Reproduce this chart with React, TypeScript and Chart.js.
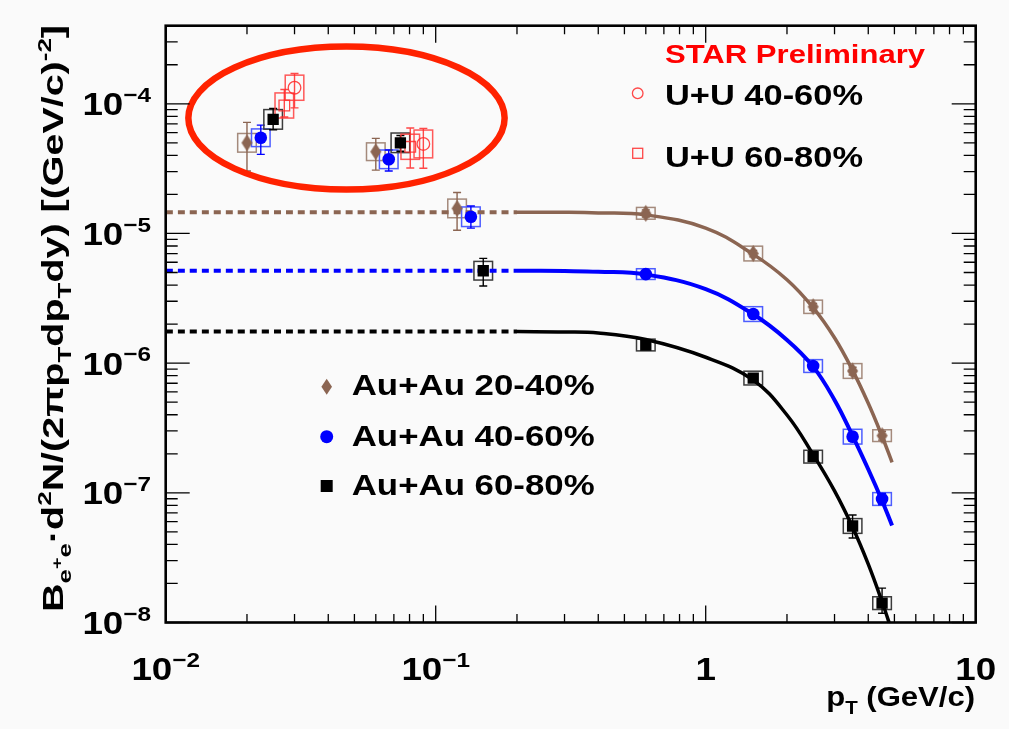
import React, { useEffect, useRef } from "react";
import { Chart, registerables } from "chart.js";

Chart.register(...registerables);

// ---- Au+Au 20-40% (pT in GeV/c, invariant yield, stat. low/high, rel. syst.)
const auPt2040 = [0.02, 0.06, 0.12, 0.6, 1.5, 2.5, 3.5, 4.5];
const auY2040 = [5.0e-5, 4.27e-5, 1.56e-5, 1.43e-5, 7.0e-6, 2.72e-6, 8.7e-7, 2.76e-7];
const auLo2040 = [3.03e-5, 3.08e-5, 1.06e-5, 1.34e-5, 6.6e-6, 2.56e-6, 8.1e-7, 2.55e-7];
const auHi2040 = [7.19e-5, 5.41e-5, 2.07e-5, 1.52e-5, 7.4e-6, 2.88e-6, 9.3e-7, 2.98e-7];
const auSys2040 = [0.18, 0.17, 0.18, 0.11, 0.14, 0.125, 0.14, 0.11];

// ---- Au+Au 40-60%
const auPt4060 = [0.0225, 0.067, 0.135, 0.6, 1.5, 2.5, 3.5, 4.5];
const auY4060 = [5.47e-5, 3.73e-5, 1.345e-5, 4.86e-6, 2.39e-6, 9.5e-7, 2.71e-7, 8.96e-8];
const auLo4060 = [4.07e-5, 3.03e-5, 1.1e-5, 4.62e-6, 2.28e-6, 9.0e-7, 2.52e-7, 8.1e-8];
const auHi4060 = [6.85e-5, 4.4e-5, 1.63e-5, 5.1e-6, 2.5e-6, 1.0e-6, 2.92e-7, 9.9e-8];
const auSys4060 = [0.17, 0.18, 0.19, 0.1, 0.14, 0.12, 0.14, 0.12];

// ---- Au+Au 60-80%
const auPt6080 = [0.025, 0.074, 0.15, 0.6, 1.5, 2.5, 3.5, 4.5];
const auY6080 = [7.58e-5, 5.0e-5, 5.16e-6, 1.38e-6, 7.67e-7, 1.9e-7, 5.55e-8, 1.41e-8];
const auLo6080 = [6.3e-5, 4.3e-5, 3.93e-6, 1.3e-6, 7.2e-7, 1.76e-7, 4.48e-8, 1.18e-8];
const auHi6080 = [9.2e-5, 5.7e-5, 6.43e-6, 1.46e-6, 8.2e-7, 2.05e-7, 6.74e-8, 1.84e-8];
const auSys6080 = [0.19, 0.19, 0.18, 0.11, 0.13, 0.12, 0.14, 0.12];

// ---- U+U 40-60%
const uuPt4060 = [0.03, 0.09];
const uuY4060 = [1.33e-4, 4.9e-5];
const uuLo4060 = [9.3e-5, 3.18e-5];
const uuHi4060 = [1.71e-4, 6.46e-5];
const uuSys4060 = [0.25, 0.28];

// ---- U+U 60-80%
const uuPt6080 = [0.0275, 0.0805];
const uuY6080 = [9.7e-5, 4.66e-5];
const uuLo6080 = [7.9e-5, 3.2e-5];
const uuHi6080 = [1.29e-4, 6.5e-5];
const uuSys6080 = [0.25, 0.25];

// ---- Fitted spectra (solid part) and their low-pT extrapolation (dotted part)
const fitPt = [0.2, 0.3, 0.4, 0.6, 1.0, 1.5, 2.0, 2.5, 3.0, 3.5, 4.0, 4.5, 4.9];
const fit2040 = [1.46e-5, 1.455e-5, 1.44e-5, 1.39e-5, 1.1e-5, 6.9e-6, 4.4e-6, 2.68e-6, 1.57e-6, 8.8e-7, 4.9e-7, 2.73e-7, 1.72e-7];
const fit4060 = [5.16e-6, 5.13e-6, 5.07e-6, 4.82e-6, 3.72e-6, 2.38e-6, 1.51e-6, 9.4e-7, 5.2e-7, 2.75e-7, 1.52e-7, 8.7e-8, 5.6e-8];
const fit6080 = [1.75e-6, 1.74e-6, 1.71e-6, 1.52e-6, 1.11e-6, 7.4e-7, 3.98e-7, 1.97e-7, 1.035e-7, 5.43e-8, 2.82e-8, 1.445e-8, 8.5e-9];
const extrapPt = [0.01, 0.2];
const extrap2040 = [1.46e-5, 1.46e-5];
const extrap4060 = [5.16e-6, 5.16e-6];
const extrap6080 = [1.75e-6, 1.75e-6];

// ---- Axes
const xRange = [0.01, 10];
const yRange = [1e-8, 4e-4];
const xTickLabels: [number, string, string][] = [
  [0.01, "10", "\u22122"],
  [0.1, "10", "\u22121"],
  [1, "1", ""],
  [10, "10", ""],
];
const yTickLabels: [number, string, string][] = [
  [1e-8, "10", "\u22128"],
  [1e-7, "10", "\u22127"],
  [1e-6, "10", "\u22126"],
  [1e-5, "10", "\u22125"],
  [1e-4, "10", "\u22124"],
];

// Highlighted low-pT region (data-space bounding box of the ellipse)
const ringX = [0.01213, 0.18];
const ringY = [2.18e-5, 2.76e-4];

const legendTop = ["U+U 40-60%", "U+U 60-80%"];
const legendBottom = ["Au+Au 20-40%", "Au+Au 40-60%", "Au+Au 60-80%"];

// ---- colours
const BROWN = "#8b6552";
const BROWN_BOX = "#a48a7c";
const BLUE = "#0000ff";
const BLUE_BOX = "#4d5dff";
const BLACK = "#000000";
const BLACK_BOX = "#3c3c3c";
const RED = "rgba(255,40,40,0.85)";
const RED_BOX = "rgba(255,60,60,0.85)";
const BG = "#fafafa";
const FONT = '"Liberation Sans", Arial, Helvetica, sans-serif';

type Seg = { t: string; k?: "sub" | "sup" | "ssup" };

function segSize(size: number, k?: string) {
  if (k === "sub" || k === "sup") return size * 0.66;
  if (k === "ssup") return size * 0.5;
  return size;
}
function segShift(size: number, k?: string) {
  if (k === "sub") return size * 0.28;
  if (k === "sup") return -size * 0.42;
  if (k === "ssup") return -size * 0.02;
  return 0;
}
function segsWidth(ctx: CanvasRenderingContext2D, segs: Seg[], size: number) {
  let w = 0;
  for (const s of segs) {
    ctx.font = `bold ${segSize(size, s.k)}px ${FONT}`;
    w += ctx.measureText(s.t).width;
  }
  return w;
}
// Draws rich text; when `width` is given the run is stretched to that length.
function drawSegs(
  ctx: CanvasRenderingContext2D,
  segs: Seg[],
  x: number,
  y: number,
  size: number,
  color: string,
  align: "left" | "right" | "center",
  width?: number,
  sx = 1.15
) {
  const natural = segsWidth(ctx, segs, size);
  const scale = width ? width / natural : sx;
  const total = natural * scale;
  let start = x;
  if (align === "right") start = x - total;
  if (align === "center") start = x - total / 2;
  ctx.save();
  ctx.translate(start, y);
  ctx.scale(scale, 1);
  ctx.fillStyle = color;
  ctx.textBaseline = "alphabetic";
  ctx.textAlign = "left";
  let cx = 0;
  for (const s of segs) {
    ctx.font = `bold ${segSize(size, s.k)}px ${FONT}`;
    ctx.fillText(s.t, cx, segShift(size, s.k));
    cx += ctx.measureText(s.t).width;
  }
  ctx.restore();
}

function tallDiamond(color: string, hw: number, hh: number) {
  const c = document.createElement("canvas");
  c.width = Math.ceil(hw * 2) + 2;
  c.height = Math.ceil(hh * 2) + 2;
  const g = c.getContext("2d")!;
  const cx = c.width / 2;
  const cy = c.height / 2;
  g.fillStyle = color;
  g.beginPath();
  g.moveTo(cx, cy - hh);
  g.lineTo(cx + hw, cy);
  g.lineTo(cx, cy + hh);
  g.lineTo(cx - hw, cy);
  g.closePath();
  g.fill();
  return c;
}

const BOX_HALF = 9.3;
const CAP = 4;

const overlay = {
  id: "overlay",
  beforeDraw(chart: any) {
    const ctx = chart.ctx;
    ctx.save();
    ctx.fillStyle = BG;
    ctx.fillRect(0, 0, chart.width, chart.height);
    ctx.restore();
  },
  beforeDatasetsDraw(chart: any) {
    const ctx: CanvasRenderingContext2D = chart.ctx;
    const ys = chart.scales.y;
    const a = chart.chartArea;
    ctx.save();
    ctx.beginPath();
    ctx.rect(a.left, a.top, a.right - a.left, a.bottom - a.top);
    ctx.clip();
    chart.data.datasets.forEach((ds: any, i: number) => {
      if (!ds.sys) return;
      const meta = chart.getDatasetMeta(i);
      meta.data.forEach((pt: any, j: number) => {
        const x = pt.x;
        const v = ds.data[j].y;
        const top = ys.getPixelForValue(v * (1 + ds.sys[j]));
        const bot = ys.getPixelForValue(v / (1 + ds.sys[j]));
        ctx.strokeStyle = ds.boxColor;
        ctx.lineWidth = 1.5;
        ctx.strokeRect(x - BOX_HALF, top, BOX_HALF * 2, bot - top);
        const hi = ys.getPixelForValue(ds.errHi[j]);
        const lo = ys.getPixelForValue(ds.errLo[j]);
        ctx.strokeStyle = ds.barColor;
        ctx.lineWidth = 1.4;
        ctx.beginPath();
        ctx.moveTo(x, hi);
        ctx.lineTo(x, lo);
        ctx.moveTo(x - CAP, hi);
        ctx.lineTo(x + CAP, hi);
        ctx.moveTo(x - CAP, lo);
        ctx.lineTo(x + CAP, lo);
        ctx.stroke();
      });
    });
    ctx.restore();
  },
  afterDraw(chart: any) {
    const ctx: CanvasRenderingContext2D = chart.ctx;
    const xs = chart.scales.x;
    const ys = chart.scales.y;
    const a = chart.chartArea;

    // highlight ellipse
    const l = xs.getPixelForValue(ringX[0]);
    const r = xs.getPixelForValue(ringX[1]);
    const t = ys.getPixelForValue(ringY[1]);
    const b = ys.getPixelForValue(ringY[0]);
    ctx.save();
    ctx.strokeStyle = "#ff2200";
    ctx.lineWidth = 6.5;
    ctx.beginPath();
    ctx.ellipse((l + r) / 2, (t + b) / 2, (r - l) / 2, (b - t) / 2, 0, 0, Math.PI * 2);
    ctx.stroke();
    ctx.restore();

    // frame and ticks
    ctx.save();
    ctx.strokeStyle = "#000";
    ctx.lineWidth = 1.3;
    ctx.beginPath();
    for (let d = 0.01; d < 10; d *= 10) {
      for (let m = 1; m <= 9; m++) {
        const v = d * m;
        const px = xs.getPixelForValue(v);
        const len = m === 1 ? 17 : 8.5;
        ctx.moveTo(px, a.bottom);
        ctx.lineTo(px, a.bottom - len);
        ctx.moveTo(px, a.top);
        ctx.lineTo(px, a.top + len);
      }
    }
    for (let d = 1e-8; d < 1e-3; d *= 10) {
      for (let m = 1; m <= 9; m++) {
        const v = d * m;
        if (v > yRange[1] * 1.0001) continue;
        const py = ys.getPixelForValue(v);
        const len = m === 1 ? 24 : 12;
        ctx.moveTo(a.left, py);
        ctx.lineTo(a.left + len, py);
        ctx.moveTo(a.right, py);
        ctx.lineTo(a.right - len, py);
      }
    }
    ctx.stroke();
    ctx.lineWidth = 2.6;
    ctx.strokeRect(a.left, a.top, a.right - a.left, a.bottom - a.top);
    ctx.restore();

    // tick labels
    const TL = 32;
    for (const [v, base, exp] of xTickLabels) {
      const segs: Seg[] = [{ t: base }];
      if (exp) segs.push({ t: exp, k: "sup" });
      drawSegs(ctx, segs, xs.getPixelForValue(v), 672, TL, "#000", "center");
    }
    for (const [v, base, exp] of yTickLabels) {
      const segs: Seg[] = [{ t: base }];
      if (exp) segs.push({ t: exp, k: "sup" });
      drawSegs(ctx, segs, 143, ys.getPixelForValue(v) + TL * 0.36, TL, "#000", "right");
    }

    // axis titles
    drawSegs(
      ctx,
      [{ t: "p" }, { t: "T", k: "sub" }, { t: " (GeV/c)" }],
      967,
      698,
      27,
      "#000",
      "right"
    );
    ctx.save();
    ctx.translate(55, 604);
    ctx.rotate(-Math.PI / 2);
    drawSegs(
      ctx,
      [
        { t: "B" },
        { t: "e", k: "sub" },
        { t: "+", k: "ssup" },
        { t: "e", k: "sub" },
        { t: "\u00b7d" },
        { t: "2", k: "sup" },
        { t: "N/(2\u03c0p" },
        { t: "T", k: "sub" },
        { t: "dp" },
        { t: "T", k: "sub" },
        { t: "dy) [(GeV/c)" },
        { t: "-2", k: "sup" },
        { t: "]" },
      ],
      0,
      0,
      29,
      "#000",
      "left",
      587
    );
    ctx.restore();

    // labels
    drawSegs(ctx, [{ t: "STAR Preliminary" }], 657, 54.6, 25, "#ff0000", "left", 260);
    const topY = [97, 158.6];
    legendTop.forEach((s, i) => drawSegs(ctx, [{ t: s }], 657, topY[i], 30, "#000", "left", 198));
    const botY = [387, 438, 487];
    legendBottom.forEach((s, i) => drawSegs(ctx, [{ t: s }], 343.7, botY[i], 29, "#000", "left", 243));

    // legend markers
    ctx.save();
    ctx.strokeStyle = RED;
    ctx.lineWidth = 1.3;
    ctx.beginPath();
    ctx.arc(629.7, 85.3, 5.3, 0, Math.PI * 2);
    ctx.stroke();
    ctx.strokeRect(624.7, 140.3, 10, 10);
    ctx.fillStyle = BROWN;
    ctx.beginPath();
    ctx.moveTo(318.7, 370.7);
    ctx.lineTo(324, 378.7);
    ctx.lineTo(318.7, 386.7);
    ctx.lineTo(313.4, 378.7);
    ctx.closePath();
    ctx.fill();
    ctx.fillStyle = BLUE;
    ctx.beginPath();
    ctx.arc(318.7, 428.7, 6.5, 0, Math.PI * 2);
    ctx.fill();
    ctx.fillStyle = BLACK;
    ctx.fillRect(312.7, 472, 12, 12);
    ctx.restore();
  },
};

function pts(xs: number[], ys: number[]) {
  return xs.map((x, i) => ({ x, y: ys[i] }));
}

export default function App() {
  const ref = useRef<HTMLCanvasElement | null>(null);

  useEffect(() => {
    document.body.style.background = BG;
    const canvas = ref.current;
    if (!canvas) return;
    const diamond = tallDiamond(BROWN, 5.5, 8.5);

    const curve = (data: any, color: string, width: number, dashed: boolean) => ({
      type: "line",
      data,
      borderColor: color,
      borderWidth: width,
      borderDash: dashed ? [7, 5] : [],
      pointRadius: 0,
      fill: false,
      tension: 0.4,
      order: 10,
    });
    const marks = (
      data: any,
      style: any,
      radius: number,
      fillColor: string,
      borderColor: string,
      borderWidth: number,
      extra: any
    ) => ({
      type: "line",
      data,
      showLine: false,
      pointStyle: style,
      pointRadius: radius,
      pointBackgroundColor: fillColor,
      pointBorderColor: borderColor,
      pointBorderWidth: borderWidth,
      order: 0,
      ...extra,
    });

    const chart = new Chart(canvas, {
      type: "line",
      data: {
        datasets: [
          curve(pts(extrapPt, extrap2040), BROWN, 4, true),
          curve(pts(extrapPt, extrap4060), BLUE, 4, true),
          curve(pts(extrapPt, extrap6080), BLACK, 4, true),
          curve(pts(fitPt, fit2040), BROWN, 3.5, false),
          curve(pts(fitPt, fit4060), BLUE, 4, false),
          curve(pts(fitPt, fit6080), BLACK, 3.5, false),
          marks(pts(auPt2040, auY2040), diamond, 8, BROWN, BROWN, 0, {
            sys: auSys2040, errLo: auLo2040, errHi: auHi2040, boxColor: BROWN_BOX, barColor: BROWN,
          }),
          marks(pts(auPt4060, auY4060), "circle", 6.3, BLUE, BLUE, 0, {
            sys: auSys4060, errLo: auLo4060, errHi: auHi4060, boxColor: BLUE_BOX, barColor: BLUE,
          }),
          marks(pts(auPt6080, auY6080), "rect", 8, BLACK, BLACK, 0, {
            sys: auSys6080, errLo: auLo6080, errHi: auHi6080, boxColor: BLACK_BOX, barColor: BLACK,
          }),
          marks(pts(uuPt4060, uuY4060), "circle", 6.3, "rgba(0,0,0,0)", RED, 1.3, {
            sys: uuSys4060, errLo: uuLo4060, errHi: uuHi4060, boxColor: RED_BOX, barColor: RED,
          }),
          marks(pts(uuPt6080, uuY6080), "rect", 7.5, "rgba(0,0,0,0)", RED, 1.3, {
            sys: uuSys6080, errLo: uuLo6080, errHi: uuHi6080, boxColor: RED_BOX, barColor: RED,
          }),
        ] as any,
      },
      options: {
        animation: false,
        responsive: true,
        maintainAspectRatio: false,
        layout: { padding: { left: 157.7, right: 25.3, top: 17.7, bottom: 98.5 } },
        scales: {
          x: { type: "logarithmic", min: xRange[0], max: xRange[1], display: false },
          y: { type: "logarithmic", min: yRange[0], max: yRange[1], display: false },
        },
        plugins: { legend: { display: false }, tooltip: { enabled: false } },
        events: [],
      } as any,
      plugins: [overlay as any],
    });
    return () => chart.destroy();
  }, []);

  return (
    <div style={{ width: 993, height: 713, position: "relative" }}>
      <canvas ref={ref} />
    </div>
  );
}
